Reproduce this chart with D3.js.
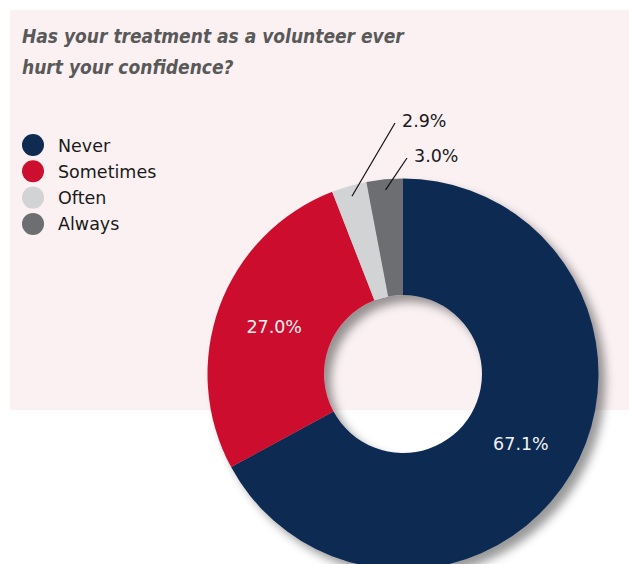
<!DOCTYPE html>
<html>
<head>
<meta charset="utf-8">
<script src="https://cdn.jsdelivr.net/npm/d3@7"></script>
<style>
  html, body { margin: 0; padding: 0; background: #ffffff; }
  svg { display: block; }
</style>
</head>
<body>
<svg id="chart" width="629" height="564"></svg>
<script>
// Survey answers and their shares (percent)
const categories = ["Never", "Sometimes", "Often", "Always"];
const shares = [67.1, 27.0, 2.9, 3.0];
const colors = ["#0f2b52", "#cc0f2f", "#d1d3d4", "#6d6e71"];
const titleLines = ["Has your treatment as a volunteer ever", "hurt your confidence?"];

const svg = d3.select("#chart");
const W = 629, H = 564;
const font = "'DejaVu Sans', Verdana, sans-serif";

// Panel background
svg.append("rect")
  .attr("x", 10).attr("y", 10)
  .attr("width", W - 10).attr("height", 400)
  .attr("fill", "#fbf1f2");

// Title
const title = svg.append("text")
  .attr("x", 22).attr("y", 43)
  .attr("font-family", "'DejaVu Sans Condensed', 'DejaVu Sans', sans-serif")
  .attr("font-stretch", "condensed")
  .attr("font-weight", "bold")
  .attr("font-style", "italic")
  .attr("font-size", 19)
  .attr("fill", "#595959");
titleLines.forEach((t, i) => {
  title.append("tspan").attr("x", 22).attr("y", 43 + i * 31).text(t);
});

// Legend
const legend = svg.append("g").attr("transform", "translate(33,145)");
categories.forEach((c, i) => {
  const g = legend.append("g").attr("transform", `translate(0,${i * 26.3})`);
  g.append("circle").attr("r", 11).attr("fill", colors[i]);
  g.append("text")
    .attr("x", 25).attr("y", 6.5)
    .attr("font-family", font)
    .attr("font-size", 17.5)
    .attr("fill", "#1a1a1a")
    .text(c);
});

// Donut
const cx = 403, cy = 374, outerR = 195.5, innerR = 79;

const defs = svg.append("defs");
const f = defs.append("filter").attr("id", "shadow")
  .attr("x", "-20%").attr("y", "-20%").attr("width", "150%").attr("height", "150%");
f.append("feDropShadow")
  .attr("dx", 7).attr("dy", 7)
  .attr("stdDeviation", 5)
  .attr("flood-color", "#000")
  .attr("flood-opacity", 0.4);

const pie = d3.pie().sort(null).value(d => d);
const arcs = pie(shares);
const arc = d3.arc().innerRadius(innerR).outerRadius(outerR);
const labelArc = d3.arc().innerRadius(innerR).outerRadius(outerR);
const leaderArc = d3.arc().innerRadius(185).outerRadius(185);

const donut = svg.append("g").attr("transform", `translate(${cx},${cy})`);
donut.append("g").attr("filter", "url(#shadow)")
  .selectAll("path").data(arcs).join("path")
  .attr("d", arc)
  .attr("fill", (d, i) => colors[i]);

// Inside labels for the large slices
const fmt = v => v.toFixed(1) + "%";
arcs.forEach((d, i) => {
  if (shares[i] < 10) return;
  const [x, y] = labelArc.centroid(d);
  donut.append("text")
    .attr("x", x).attr("y", y + 6)
    .attr("text-anchor", "middle")
    .attr("font-family", font)
    .attr("font-size", 17.5)
    .attr("fill", "#f2f2f2")
    .text(fmt(shares[i]));
});

// Outside labels with leader lines for the small slices
const leaderEnds = { 2: [-8, -251], 3: [4, -216] };
arcs.forEach((d, i) => {
  if (shares[i] >= 10) return;
  const [x0, y0] = leaderArc.centroid(d);
  const [x1, y1] = leaderEnds[i];
  donut.append("line")
    .attr("x1", x0).attr("y1", y0)
    .attr("x2", x1).attr("y2", y1)
    .attr("stroke", "#111").attr("stroke-width", 1.2);
  donut.append("text")
    .attr("x", x1 + 7).attr("y", y1 + 4)
    .attr("font-family", font)
    .attr("font-size", 17.5)
    .attr("fill", "#1a1a1a")
    .text(fmt(shares[i]));
});
</script>
</body>
</html>
